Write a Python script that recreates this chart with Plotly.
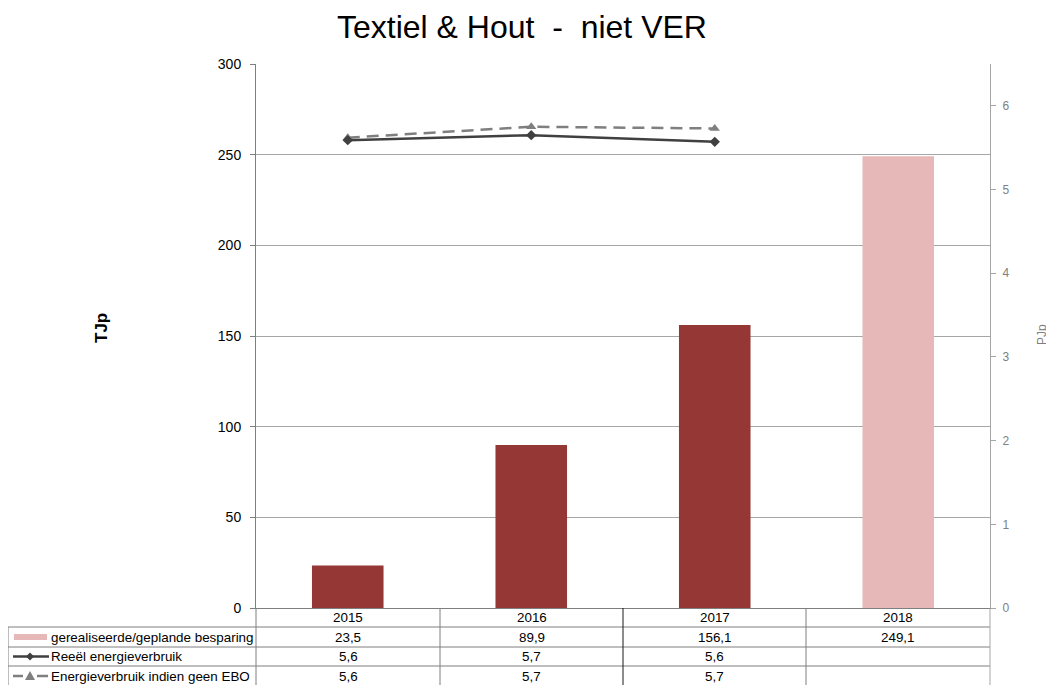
import plotly.graph_objects as go

# ---------------- data ----------------
years = ["2015", "2016", "2017", "2018"]
savings_tj = [23.5, 89.9, 156.1, 249.1]
bar_status = ["realised", "realised", "realised", "planned"]
line_years = ["2015", "2016", "2017"]
reeel_pj = [5.59, 5.65, 5.57]
ebo_pj = [5.62, 5.75, 5.73]
savings_labels = ["23,5", "89,9", "156,1", "249,1"]
reeel_labels = ["5,6", "5,7", "5,6", ""]
ebo_labels = ["5,6", "5,7", "5,7", ""]
series_names = ["gerealiseerde/geplande besparing", "Reeël energieverbruik",
                "Energieverbruik indien geen EBO"]
title_text = "Textiel & Hout  -  niet VER"

# ---------------- layout geometry (page pixels) ----------------
W, H = 1054, 685
BODY = 8  # default page body margin
PX0, PX1, PY0, PY1 = 256, 990, 64, 608
FONT = "Liberation Sans, Arial, sans-serif"
DARK = "#953735"
PINK = "#E6B9B8"
GRID = "#A6A6A6"
TFS = 13.4  # table font size


def fx(px):
    return (px - PX0) / (PX1 - PX0)


def fy(py):
    return (PY1 - py) / (PY1 - PY0)


colors = {"realised": DARK, "planned": PINK}

fig = go.Figure()
fig.add_trace(go.Bar(
    x=years, y=savings_tj, marker=dict(color=[colors[s] for s in bar_status], line_width=0),
    name=series_names[0], yaxis="y", showlegend=False, hoverinfo="x+y"))
fig.add_trace(go.Scatter(
    x=line_years, y=ebo_pj, yaxis="y2", mode="lines+markers", name=series_names[2],
    line=dict(color="#7F7F7F", width=2.5, dash="12px,7px"),
    marker=dict(symbol="triangle-up", size=9, color="#7F7F7F"), showlegend=False))
fig.add_trace(go.Scatter(
    x=line_years, y=reeel_pj, yaxis="y2", mode="lines+markers", name=series_names[1],
    line=dict(color="#404040", width=2.5),
    marker=dict(symbol="diamond", size=8, color="#404040"), showlegend=False))

fig.update_layout(
    width=W - BODY, height=H - BODY,
    margin=dict(l=PX0 - BODY, r=W - PX1, t=PY0 - BODY, b=H - PY1, pad=0),
    paper_bgcolor="white", plot_bgcolor="white",
    font=dict(family=FONT, color="black", size=12),
    bargap=0.61,
    xaxis=dict(type="category", range=[-0.5, 3.5], showticklabels=False, ticks="",
               showgrid=False, showline=True, linecolor="#7F7F7F", linewidth=1, zeroline=False),
    yaxis=dict(range=[0, 300], dtick=50, showgrid=True, gridcolor=GRID, gridwidth=1,
               showline=True, linecolor="#7F7F7F", linewidth=1, ticks="outside", ticklen=5,
               tickcolor="#7F7F7F", tickfont=dict(size=14, color="black", family=FONT),
               zeroline=False, ticklabelstandoff=6),
    yaxis2=dict(range=[0, 6.5], dtick=1, overlaying="y", side="right", showgrid=False,
                showline=True, linecolor="#A6A6A6", linewidth=1, ticks="outside", ticklen=5,
                tickcolor="#A6A6A6", tickfont=dict(size=12, color="#808080", family=FONT),
                zeroline=False, ticklabelstandoff=4),
)

shapes = []
annotations = []

# title & axis titles
annotations.append(dict(text=title_text.replace(" ", "\u00a0"), xref="paper", yref="paper",
                        x=fx(522), y=fy(BODY), showarrow=False, xanchor="center", yanchor="top",
                        borderpad=0, font=dict(size=32, family=FONT, color="black")))
annotations.append(dict(text="<b>TJp</b>", xref="paper", yref="paper", x=fx(101), y=fy(328),
                        textangle=-90, showarrow=False, xanchor="center", yanchor="middle",
                        font=dict(size=17, family=FONT, color="black")))
annotations.append(dict(text="PJp", xref="paper", yref="paper", x=fx(1042), y=fy(335),
                        textangle=-90, showarrow=False, xanchor="center", yanchor="middle",
                        font=dict(size=12, family=FONT, color="#808080")))


def hline(x0, x1, y, color="#7F7F7F", w=1):
    shapes.append(dict(type="line", xref="paper", yref="paper", x0=fx(x0), x1=fx(x1),
                       y0=fy(y), y1=fy(y), line=dict(color=color, width=w)))


def vline(x, y0, y1, color="#7F7F7F", w=1):
    shapes.append(dict(type="line", xref="paper", yref="paper", x0=fx(x), x1=fx(x),
                       y0=fy(y0), y1=fy(y1), line=dict(color=color, width=w)))


# table grid
row_lines = [627, 647, 666]
for y in row_lines:
    hline(8, 990, y)
vline(8, 627, 690)
vline(256, 608, 690)
col_edges = [256, 440, 623, 806, 990]
for i, x in enumerate(col_edges[1:-1]):
    vline(x, 608, 690, color="#1a1a1a" if i == 1 else "#7F7F7F")
vline(990, 608, 690, color="#A6A6A6")

# table text
row_centers = [617.5, 637, 656.5, 676]
centers = [(col_edges[i] + col_edges[i + 1]) / 2 for i in range(4)]
rows = [years, savings_labels, reeel_labels, ebo_labels]
for r, labels in enumerate(rows):
    for c, lab in enumerate(labels):
        if lab:
            annotations.append(dict(text=lab, xref="paper", yref="paper", x=fx(centers[c]),
                                    y=fy(row_centers[r]), showarrow=False, xanchor="center",
                                    yanchor="middle", font=dict(size=TFS, family=FONT, color="black")))
for r, name in enumerate(series_names):
    annotations.append(dict(text=name, xref="paper", yref="paper", x=fx(49), y=fy(row_centers[r + 1]),
                            showarrow=False, xanchor="left", yanchor="middle",
                            font=dict(size=TFS, family=FONT, color="black")))

# legend keys
yk = row_centers[1]
shapes.append(dict(type="rect", xref="paper", yref="paper", x0=fx(14), x1=fx(47), y0=fy(yk - 3),
                   y1=fy(yk + 3), fillcolor=PINK, line_width=0))
yk = row_centers[2]
hline(13, 49, yk, color="#404040", w=2.5)
shapes.append(dict(type="path", xref="paper", yref="paper",
                   path=f"M {fx(30)} {fy(yk-4)} L {fx(34)} {fy(yk)} L {fx(30)} {fy(yk+4)} L {fx(26)} {fy(yk)} Z",
                   fillcolor="#404040", line_width=0))
yk = row_centers[3]
hline(13, 23, yk, color="#7F7F7F", w=2.5)
hline(37, 48, yk, color="#7F7F7F", w=2.5)
shapes.append(dict(type="path", xref="paper", yref="paper",
                   path=f"M {fx(30)} {fy(yk-5)} L {fx(35)} {fy(yk+4)} L {fx(25)} {fy(yk+4)} Z",
                   fillcolor="#7F7F7F", line_width=0))

fig.update_layout(shapes=shapes, annotations=annotations)
fig.write_html("out.html")
